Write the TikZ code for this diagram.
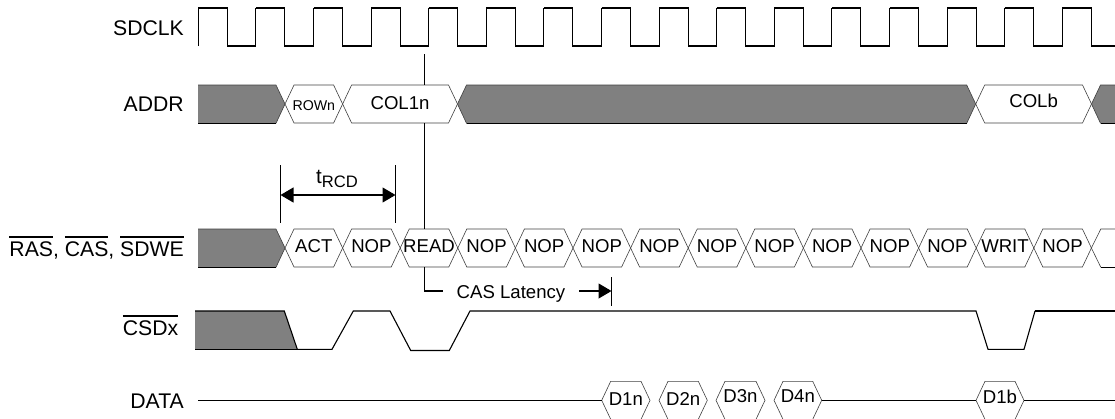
\documentclass[tikz,border=0pt]{standalone}
\usepackage{fontspec}
\setmainfont{Liberation Sans}
\usetikzlibrary{arrows.meta}

\tikzset{
    sigline/.style={line width=1.1pt, black},
    hexline/.style={line width=0.6pt, black!75},
    busfill/.style={fill=black!50},
    rowlabel/.style={anchor=base east, inner sep=0pt, font=\fontsize{21.2}{23}\selectfont},
    celltext/.style={anchor=base, inner sep=0pt, font=\fontsize{18.6}{20}\selectfont},
    smalltext/.style={anchor=base, inner sep=0pt, font=\fontsize{14.2}{16}\selectfont},
}

% name, left tip, right tip, centre y, text baseline, text
\newcommand{\hexcell}[7][celltext]{
    \draw[hexline] (#3,#5) coordinate (#2l) -- (#3+9,#5-19) -- (#4-9,#5-19) -- (#4,#5) coordinate (#2r) -- (#4-9,#5+19) -- (#3+9,#5+19) -- cycle;
    \node[#1] (#2) at ({(#3+#4)/2},#6) {#7};
}
\newcommand{\barred}[1]{\setbox0=\hbox{#1}\rlap{\rule[18.2pt]{\wd0}{1.6pt}}\box0}

\begin{document}
\begin{tikzpicture}[x=1pt, y=-1pt, >={Triangle[length=13pt, width=15pt]}]
            \useasboundingbox (0,0) rectangle (1115,418);
            \clip (0,0) rectangle (1115,418);

            % ==== ROW LABELS ====
            \node[rowlabel] (sdclk) at (184,35.5) {SDCLK};
            \node[rowlabel] (addr) at (184,111.7) {ADDR};
            \node[rowlabel] (cmd) at (184,256) {\barred{RAS}, \barred{CAS}, \barred{SDWE}};
            \node[rowlabel] (csdx) at (178.5,335) {\barred{CSDx}};
            \node[rowlabel] (data) at (184,408) {DATA};

            % ==== CLOCK ====
            \draw[sigline] (198.3,46) -- (198.3,8);
            \foreach \i in {0,...,15} {
                \pgfmathsetmacro{\xr}{198.3+57.6*\i}
                \draw[sigline] (\xr,8) -- (\xr+29,8) -- (\xr+29,46) -- (\xr+57.6,46) -- (\xr+57.6,8);
            }

            % ==== ADDR ====
            \fill[busfill] (198,85) -- (276,85) -- (285,104) -- (276,123.3) -- (198,123.3) -- cycle;
            \draw[hexline] (198,85) -- (276,85) -- (285,104) -- (276,123.3);
            \draw[sigline] (198,123.3) -- (276,123.3);
            \hexcell[smalltext]{rown}{285}{342.6}{104}{110}{ROWn}
            \hexcell{col1n}{342.6}{457.5}{104}{109}{COL1n}
            \fill[busfill] (457.5,104) -- (466.5,85) -- (966.7,85) -- (975.7,104) -- (966.7,123.3) -- (466.5,123.3) -- cycle;
            \draw[hexline] (457.5,104) -- (466.5,85) -- (966.7,85) -- (975.7,104) -- (966.7,123.3) -- (466.5,123.3) -- cycle;
            \draw[sigline] (466.5,123.3) -- (966.7,123.3);
            \hexcell{colb}{975.7}{1091.5}{104}{107.7}{COLb}
            \fill[busfill] (1115,85) -- (1100.5,85) -- (1091.5,104) -- (1100.5,123.3) -- (1115,123.3) -- cycle;
            \draw[hexline] (1115,85) -- (1100.5,85) -- (1091.5,104) -- (1100.5,123.3);
            \draw[sigline] (1100.5,123.3) -- (1115,123.3);

            % ==== COMMANDS ====
            \fill[busfill] (198,229) -- (276,229) -- (285,248) -- (276,267.3) -- (198,267.3) -- cycle;
            \draw[hexline] (198,229) -- (276,229) -- (285,248) -- (276,267.3);
            \draw[sigline] (198,267.3) -- (276,267.3);
            \foreach \i/\txt in {0/ACT,1/NOP,2/READ,3/NOP,4/NOP,5/NOP,6/NOP,7/NOP,8/NOP,9/NOP,10/NOP,11/NOP,12/WRIT,13/NOP} {
                \pgfmathsetmacro{\xa}{285+57.6*\i}
                \pgfmathsetmacro{\xb}{\xa+57.6}
                \hexcell{cmd\i}{\xa}{\xb}{248}{252}{\txt}
            }
            \draw[hexline] (1115,229) -- (1100.8,229) -- (1091.4,248) -- (1100.8,267.3);
            \draw[sigline] (1100.8,267.3) -- (1115,267.3);

            % ==== CSDx ====
            \fill[busfill] (195,311) -- (284.3,311) -- (297.3,349.3) -- (195,349.3) -- cycle;
            \draw[sigline] (195,311) -- (284.3,311) -- (297.3,349.3) -- (332,349.3) -- (353.3,311) -- (390,311)
                -- (410.7,350.5) -- (449.3,350.5) -- (470,311) -- (976,311) -- (988,349.3) -- (1024,349.3) -- (1035,311);
            \draw[sigline] (195,349.3) -- (297.3,349.3);
            \draw[line width=1.8pt] (1035,311) -- (1115,311);

            % ==== DATA ====
            \coordinate (datastart) at (198,400.3);
            \coordinate (dataend) at (1115,400.3);
            \hexcell{d1n}{601.7}{650}{400.3}{405}{D1n}
            \hexcell{d2n}{659}{707.3}{400.3}{405}{D2n}
            \hexcell{d3n}{716}{765}{400.3}{402.8}{D3n}
            \hexcell{d4n}{774}{821.7}{400.3}{402.8}{D4n}
            \hexcell{d1b}{976}{1024}{400.3}{403}{D1b}
            \draw[sigline] (datastart) -- (d1nl);
            \draw[sigline] (d4nr) -- (d1bl);
            \draw[sigline] (d1br) -- (dataend);

            % ==== READ MARKER ====
            \coordinate (marktop) at (424.5,54);
            \coordinate (markaddrtop) at (424.5,85);
            \coordinate (markaddrbot) at (424.5,123.3);
            \coordinate (markcmdtop) at (424.5,229);
            \coordinate (markcmdbot) at (424.5,267.3);
            \coordinate (markcorner) at (424.5,291);
            \draw[sigline] (marktop) -- (markaddrtop);
            \draw[sigline] (markaddrbot) -- (markcmdtop);

            % ==== CAS LATENCY ====
            \node[celltext] (caslat) at (511,298) {CAS Latency};
            \coordinate (latend) at (442.7,291);
            \coordinate (latstart) at (579,291);
            \coordinate (latbartop) at (611.5,277);
            \coordinate (latbarbot) at (611.5,305.7);
            \coordinate (lattip) at (611.5,291);
            \draw[sigline] (markcmdbot) -- (markcorner) -- (latend);
            \draw[->, sigline] (latstart) -- (lattip);
            \draw[sigline] (latbartop) -- (latbarbot);

            % ==== tRCD ====
            \coordinate (rcdltop) at (280.5,165);
            \coordinate (rcdlbot) at (280.5,223);
            \coordinate (rcdrtop) at (395.5,165);
            \coordinate (rcdrbot) at (395.5,223);
            \coordinate (rcdl) at (280.5,195);
            \coordinate (rcdr) at (395.5,195);
            \draw[sigline] (rcdltop) -- (rcdlbot);
            \draw[sigline] (rcdrtop) -- (rcdrbot);
            \draw[<->, sigline] (rcdl) -- (rcdr);
            \node[celltext, font=\fontsize{20.5}{22}\selectfont] (trcd) at (337,183) {t\raisebox{-4pt}{\fontsize{16.6}{18}\selectfont RCD}};
\end{tikzpicture}
\end{document}
